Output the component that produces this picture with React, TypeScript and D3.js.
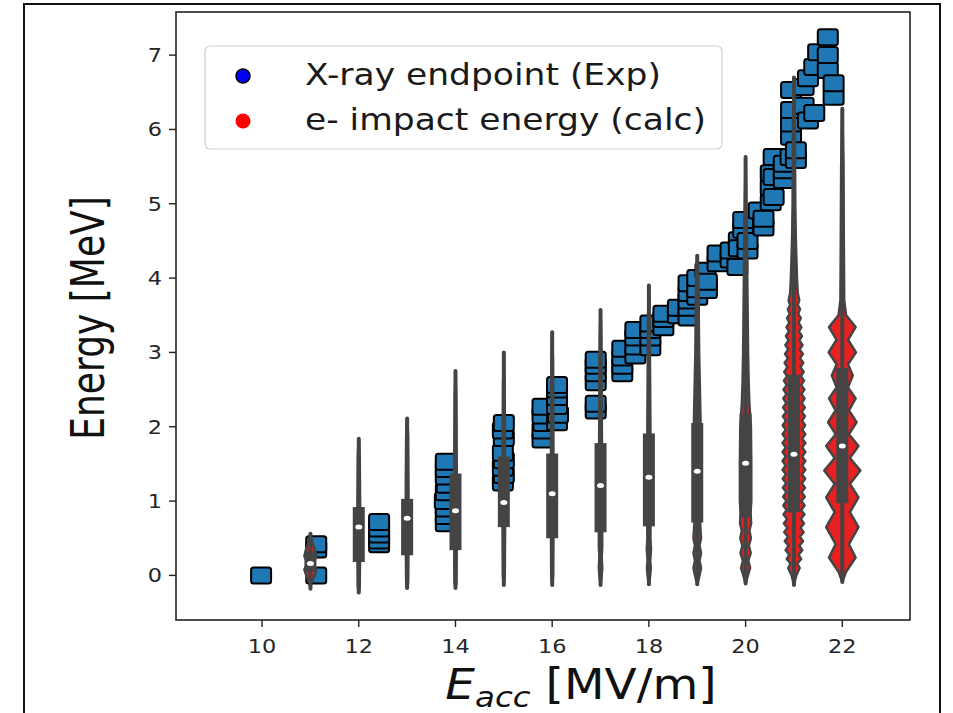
import React from "react";
import * as d3 from "d3";

// ---------- data ----------
const xTicks = [10, 12, 14, 16, 18, 20, 22];
const yTicks = [0, 1, 2, 3, 4, 5, 6, 7];

const legendLabels = ["X-ray endpoint (Exp)", "e- impact energy (calc)"];

// X-ray endpoint (Exp) measurements
const xrayEacc = [
  9.98,
  11.12, 11.12, 11.12,
  12.42, 12.42, 12.42, 12.42, 12.42,
  13.8, 13.8, 13.8, 13.78, 13.8, 13.82, 13.8, 13.8, 13.8,
  14.98, 15.0, 14.98, 15.0, 14.98, 15.0, 14.98, 15.0,
  15.8, 15.8, 15.82, 15.8, 15.8,
  16.1, 16.12, 16.1, 16.1, 16.1, 16.1,
  16.9, 16.9, 16.9, 16.9, 16.9, 16.9,
  17.45, 17.45, 17.45, 17.45,
  17.72, 17.72, 17.72, 17.72,
  18.03, 18.03, 18.03, 18.03,
  18.3, 18.3, 18.3,
  18.6, 18.6,
  18.82, 18.82, 18.82, 18.82, 18.82,
  19.0, 19.0, 19.0,
  19.2, 19.17, 19.2,
  19.42, 19.42,
  19.69, 19.69,
  19.83, 19.86, 19.86,
  19.95, 19.95,
  20.04, 20.04,
  20.27, 20.37, 20.37,
  20.52, 20.52, 20.52,
  20.58, 20.58, 20.58,
  20.79, 20.79, 20.79,
  20.93, 20.94, 20.94, 20.94, 20.94,
  21.04, 21.04,
  21.2, 21.2,
  21.29, 21.29,
  21.42, 21.42,
  21.5,
  21.7, 21.7, 21.7,
  21.82, 21.82,
];
const xrayEnergy = [
  0.0,
  0.0, 0.35, 0.42,
  0.42, 0.47, 0.55, 0.63, 0.72,
  0.7, 0.8, 0.9, 1.0, 1.12, 1.22, 1.33, 1.43, 1.53,
  1.25, 1.35, 1.45, 1.55, 1.65, 1.85, 1.95, 2.05,
  1.83, 1.95, 2.05, 2.15, 2.27,
  2.06, 2.16, 2.28, 2.4, 2.5, 2.56,
  2.22, 2.31, 2.6, 2.72, 2.82, 2.9,
  2.72, 2.82, 2.93, 3.05,
  2.96, 3.08, 3.2, 3.3,
  3.07, 3.2, 3.3, 3.39,
  3.34, 3.45, 3.52,
  3.5, 3.6,
  3.47, 3.6, 3.7, 3.8, 3.93,
  3.75, 3.85, 4.0,
  3.84, 4.1, 3.95,
  4.2, 4.33,
  4.25, 4.37,
  4.15, 4.51, 4.4,
  4.65, 4.78,
  4.37, 4.5,
  4.91, 4.68, 4.8,
  5.02, 5.22, 5.41,
  5.09, 5.36, 5.63,
  5.32, 5.45, 5.54,
  5.63, 5.9, 6.08, 6.26, 6.53,
  5.59, 5.72,
  6.32, 6.57,
  6.12, 6.69,
  6.22, 6.84,
  7.04,
  6.8, 7.0, 7.24,
  6.44, 6.62,
];

// e- impact energy (calc) distributions, one violin per gradient
const violinPositions = [11, 12, 13, 14, 15, 16, 17, 18, 19, 20, 21, 22];
const violinMin = [-0.18, -0.23, -0.17, -0.17, -0.13, -0.13, -0.13, -0.12, -0.12, -0.11, -0.13, -0.09];
const violinMax = [0.56, 1.84, 2.11, 2.75, 3.0, 3.27, 3.57, 3.9, 4.3, 5.63, 6.7, 6.28];
const violinQ1 = [0.05, 0.18, 0.27, 0.34, 0.65, 0.5, 0.58, 0.66, 0.71, 0.78, 0.85, 0.97];
const violinMedian = [0.16, 0.65, 0.77, 0.87, 0.98, 1.1, 1.21, 1.32, 1.4, 1.51, 1.63, 1.74];
const violinQ3 = [0.32, 0.92, 1.03, 1.37, 1.6, 1.64, 1.78, 1.91, 2.05, 2.18, 2.7, 2.79];

// density profiles: [energy, relative density]
const profile11 = [[-0.18, 0], [-0.1, 0.05], [0, 0.22], [0.08, 0.32], [0.16, 0.15], [0.26, 0.32], [0.36, 0.22], [0.46, 0.08], [0.56, 0]];
const profile12 = [[-0.23, 0], [-0.15, 0.05], [0.3, 0.07], [1.0, 0.07], [1.6, 0.05], [1.84, 0]];
const profile13 = [[-0.17, 0], [-0.1, 0.05], [0.4, 0.07], [1.2, 0.07], [1.9, 0.05], [2.11, 0]];
const profile14 = [[-0.17, 0], [-0.1, 0.05], [0.5, 0.07], [1.3, 0.07], [2.4, 0.04], [2.75, 0]];
const profile15 = [[-0.13, 0], [0, 0.05], [0.8, 0.07], [1.6, 0.06], [2.6, 0.04], [3.0, 0]];
const profile16 = [[-0.13, 0], [0, 0.05], [0.9, 0.07], [1.8, 0.06], [2.9, 0.04], [3.27, 0]];
const profile17 = [[-0.13, 0], [0, 0.06], [0.1, 0.09], [0.25, 0.06], [0.4, 0.09], [1.0, 0.08], [2.0, 0.07], [3.2, 0.04], [3.57, 0]];
const profile18 = [[-0.12, 0], [0, 0.07], [0.1, 0.1], [0.2, 0.07], [0.35, 0.11], [0.5, 0.08], [1.0, 0.1], [2.0, 0.08], [3.5, 0.04], [3.9, 0]];
const profile19 = [[-0.12, 0], [0, 0.12], [0.1, 0.2], [0.2, 0.12], [0.3, 0.2], [0.4, 0.12], [0.5, 0.2], [0.7, 0.15], [1.0, 0.2], [2.0, 0.18], [3.0, 0.1], [4.0, 0.06], [4.3, 0]];
const profile20 = [[-0.11, 0], [0, 0.12], [0.1, 0.24], [0.2, 0.14], [0.3, 0.27], [0.4, 0.17], [0.5, 0.28], [0.6, 0.2], [0.7, 0.29], [0.85, 0.26], [1.0, 0.3], [1.5, 0.3], [2.0, 0.28], [2.3, 0.2], [2.6, 0.16], [3.0, 0.13], [3.5, 0.11], [4.0, 0.09], [4.6, 0.07], [5.63, 0]];
const profile21 = [
  [-0.13, 0], [0, 0.12],
  [0.1, 0.3], [0.16, 0.18], [0.22, 0.38], [0.28, 0.24], [0.34, 0.44], [0.4, 0.28],
  [0.46, 0.48], [0.52, 0.31], [0.58, 0.51], [0.64, 0.34], [0.7, 0.53], [0.76, 0.36],
  [0.82, 0.55], [0.88, 0.38], [0.94, 0.56], [1.0, 0.39], [1.06, 0.57], [1.12, 0.4],
  [1.18, 0.58], [1.24, 0.41], [1.3, 0.59], [1.36, 0.42], [1.42, 0.6], [1.48, 0.43],
  [1.54, 0.6], [1.6, 0.43], [1.66, 0.6], [1.72, 0.43], [1.78, 0.6], [1.84, 0.43],
  [1.9, 0.6], [1.96, 0.43], [2.02, 0.59], [2.08, 0.42], [2.14, 0.58], [2.2, 0.41],
  [2.26, 0.57], [2.32, 0.4], [2.38, 0.56], [2.44, 0.39], [2.5, 0.55], [2.56, 0.38],
  [2.62, 0.53], [2.68, 0.36], [2.74, 0.51], [2.8, 0.34], [2.86, 0.49], [2.92, 0.32],
  [2.98, 0.47], [3.04, 0.3], [3.1, 0.45], [3.16, 0.28], [3.22, 0.42], [3.28, 0.26],
  [3.34, 0.39], [3.4, 0.24], [3.46, 0.36], [3.52, 0.22], [3.58, 0.32], [3.64, 0.2],
  [3.7, 0.28], [3.8, 0.2], [4.0, 0.16], [4.5, 0.1], [5.0, 0.07], [6.0, 0.05], [6.7, 0],
];
const profile22 = [[-0.09, 0], [0.05, 0.2], [0.24, 0.7], [0.42, 0.35], [0.65, 0.85], [0.85, 0.4], [1.05, 0.85], [1.23, 0.4], [1.41, 0.95], [1.58, 0.4], [1.74, 0.85], [1.9, 0.35], [2.06, 0.75], [2.22, 0.35], [2.38, 0.7], [2.53, 0.3], [2.69, 0.55], [2.84, 0.3], [3.0, 0.72], [3.17, 0.3], [3.34, 0.7], [3.5, 0.2], [3.7, 0.1], [4.5, 0.08], [5.5, 0.06], [6.28, 0]];
const violinProfiles = [profile11, profile12, profile13, profile14, profile15, profile16, profile17, profile18, profile19, profile20, profile21, profile22];

// ---------- layout ----------
const W = 953;
const H = 713;
const M = { left: 176, right: 910, top: 12, bottom: 620 };
const STRETCH = 1.12;
const GRAY = "#444444";
const RED = "#e82020";
const BLUE = "#1f77b4";
const FONT = "'DejaVu Sans', sans-serif";

export default function App() {
  const x = d3.scaleLinear().domain([8.22, 23.4]).range([M.left, M.right]);
  const y = d3.scaleLinear().domain([-0.6, 7.58]).range([M.bottom, M.top]);
  const wScale = d3.scaleLinear().domain([0, 1]).range([0, 19]);

  const squares = xrayEacc.map((e, i) => ({ e, v: xrayEnergy[i] }));

  const violins = violinPositions.map((p, i) => {
    const cx = x(p);
    const area = d3
      .area<number[]>()
      .y((d) => y(d[0]))
      .x0((d) => cx - wScale(d[1]))
      .x1((d) => cx + wScale(d[1]))
      .curve(d3.curveLinear);
    return {
      cx,
      path: area(violinProfiles[i]) || "",
      min: violinMin[i],
      max: violinMax[i],
      q1: violinQ1[i],
      q3: violinQ3[i],
      med: violinMedian[i],
    };
  });

  return (
    <div style={{ position: "absolute", left: 0, top: 0 }}>
      <svg width={W} height={H} style={{ display: "block", background: "#fff" }}>
        <rect x={0} y={0} width={W} height={H} fill="#fff" />
        {/* outer frame */}
        <rect x={24} y={4} width={916} height={740} fill="none" stroke="#111" strokeWidth={2} />

        {/* squares */}
        <g>
          {squares.map((s, i) => (
            <rect
              key={i}
              x={x(s.e) - 10}
              y={y(s.v) - 8}
              width={20}
              height={16}
              rx={2.5}
              fill={BLUE}
              stroke="#000"
              strokeWidth={2}
            />
          ))}
        </g>

        {/* violins */}
        <g>
          {violins.map((v, i) => (
            <g key={i}>
              <path d={v.path} fill={RED} stroke={GRAY} strokeWidth={2.5} strokeLinejoin="round" />
              <line x1={v.cx} x2={v.cx} y1={y(v.min)} y2={y(v.max)} stroke={GRAY} strokeWidth={4} strokeLinecap="round" />
              <rect x={v.cx - 6} y={y(v.q3)} width={12} height={y(v.q1) - y(v.q3)} fill={GRAY} />
              <ellipse cx={v.cx} cy={y(v.med)} rx={3.5} ry={2.5} fill="#fff" />
            </g>
          ))}
        </g>

        {/* axes frame */}
        <rect
          x={M.left}
          y={M.top}
          width={M.right - M.left}
          height={M.bottom - M.top}
          fill="none"
          stroke="#222"
          strokeWidth={1.6}
        />

        {/* x ticks */}
        <g>
          {xTicks.map((t) => (
            <g key={t}>
              <line x1={x(t)} x2={x(t)} y1={M.bottom} y2={M.bottom + 7} stroke="#222" strokeWidth={1.4} />
              <text
                transform={`translate(${x(t)},${M.bottom + 33}) scale(${STRETCH},1)`}
                textAnchor="middle"
                fontFamily={FONT}
                fontSize={20}
                fill="#262626"
              >
                {t}
              </text>
            </g>
          ))}
        </g>

        {/* y ticks */}
        <g>
          {yTicks.map((t) => (
            <g key={t}>
              <line x1={M.left - 7} x2={M.left} y1={y(t)} y2={y(t)} stroke="#222" strokeWidth={1.4} />
              <text
                transform={`translate(${M.left - 14},${y(t) + 7}) scale(${STRETCH},1)`}
                textAnchor="end"
                fontFamily={FONT}
                fontSize={20}
                fill="#262626"
              >
                {t}
              </text>
            </g>
          ))}
        </g>

        {/* axis labels */}
        <text
          transform={`translate(104,318) scale(1.3,1) rotate(-90)`}
          textAnchor="middle"
          fontFamily={FONT}
          fontSize={36}
          fill="#111"
        >
          Energy [MeV]
        </text>
        <text
          transform={`translate(581,699) scale(${STRETCH},1)`}
          textAnchor="middle"
          fontFamily={FONT}
          fontSize={42}
          fill="#111"
        >
          <tspan fontStyle="italic">E</tspan>
          <tspan fontStyle="italic" fontSize={29} dy={8}>acc</tspan>
          <tspan dy={-8}> [MV/m]</tspan>
        </text>

        {/* legend */}
        <g>
          <rect x={205} y={46} width={517} height={103} rx={5} fill="#fff" fillOpacity={0.85} stroke="#d0d0d0" strokeWidth={1.2} />
          <circle cx={243} cy={76} r={7} fill="#0000ff" stroke="#000" strokeWidth={1.5} />
          <circle cx={243} cy={121} r={7.5} fill="#ff0000" />
          {legendLabels.map((l, i) => (
            <text
              key={l}
              transform={`translate(305,${85 + i * 45}) scale(1.15,1)`}
              fontFamily={FONT}
              fontSize={30}
              fill="#1a1a1a"
            >
              {l}
            </text>
          ))}
        </g>
      </svg>
    </div>
  );
}
